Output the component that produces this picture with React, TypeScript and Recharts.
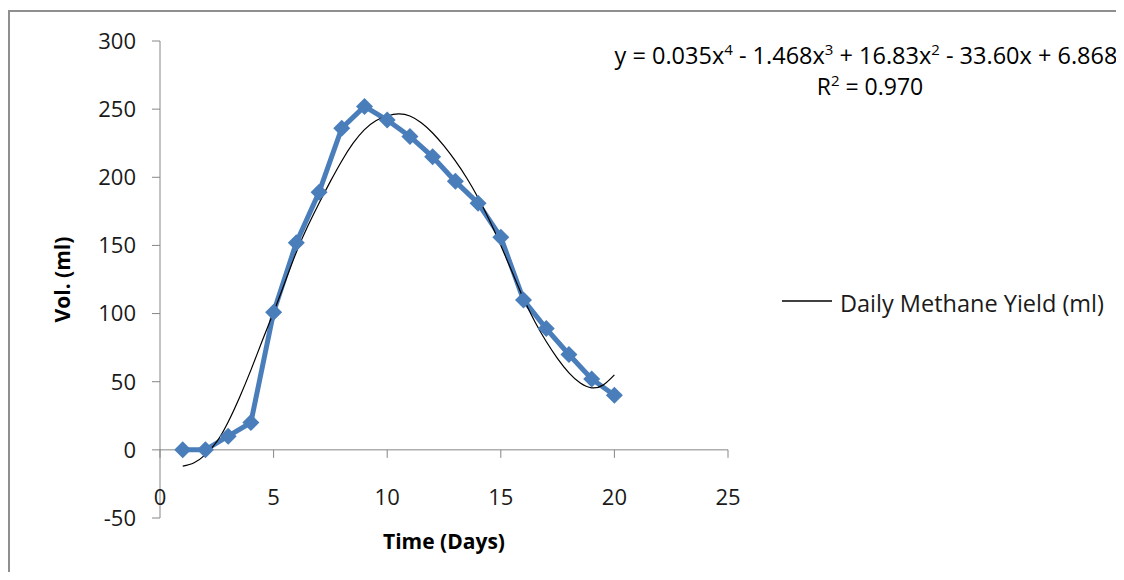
import React from 'react';
import { ComposedChart, Line, XAxis, YAxis, ReferenceLine, ReferenceDot, Legend } from 'recharts';

const days = [1, 2, 3, 4, 5, 6, 7, 8, 9, 10, 11, 12, 13, 14, 15, 16, 17, 18, 19, 20];
const methaneYield = [0, 0, 10, 20, 101, 152, 189, 236, 252, 242, 230, 215, 197, 181, 156, 110, 89, 70, 52, 40];

const trendDays = [1, 1.5, 2, 2.5, 3, 3.5, 4, 4.5, 5, 5.5, 6, 6.5, 7, 7.5, 8, 8.5, 9, 9.5, 10, 10.5, 11, 11.5, 12, 12.5, 13, 13.5, 14, 14.5, 15, 15.5, 16, 16.5, 17, 17.5, 18, 18.5, 19, 19.5, 20];
const trendValues = [-12, -9.5, -3.5, 6, 20.5, 38.5, 58.5, 80, 101, 123, 145, 164, 181, 197, 212, 225, 235, 241.5, 245, 246.5, 245, 240, 232.5, 223, 212, 199.5, 185, 168.5, 150, 130.5, 111, 94, 79.5, 67, 56.5, 49, 45.5, 47.5, 55];

const xTicks = [0, 5, 10, 15, 20, 25];
const yTicks = [-50, 0, 50, 100, 150, 200, 250, 300];

const legendLabel = 'Daily Methane Yield (ml)';
const xTitle = 'Time (Days)';
const yTitle = 'Vol. (ml)';

const seriesData = days.map((d, i) => ({ x: d, y: methaneYield[i] }));
const trendData = trendDays.map((d, i) => ({ x: d, y: trendValues[i] }));

const FONT = "'Open Sans', sans-serif";
const AXIS_COLOR = '#868686';
const BLUE = '#4A7EBB';

const Diamond = (props: any) => {
  const { cx, cy, index } = props;
  if (cx == null || cy == null) return null;
  const r = 8.5;
  return (
    <path
      key={`d-${index}`}
      d={`M${cx},${cy - r}L${cx + r},${cy}L${cx},${cy + r}L${cx - r},${cy}Z`}
      fill={BLUE}
    />
  );
};

const XTick = (props: any) => {
  const { x, y, payload } = props;
  return (
    <text x={x} y={y} dy={-13} textAnchor="middle" fontSize={22} fill="#1a1a1a" fontFamily={FONT}>
      {payload.value}
    </text>
  );
};

const TickMark = (props: any) => {
  const { cx, cy } = props;
  if (cx == null || cy == null) return null;
  return <line x1={cx} x2={cx} y1={cy} y2={cy + 8} stroke={AXIS_COLOR} strokeWidth={1} />;
};

const renderLegend = () => (
  <div style={{ display: 'flex', alignItems: 'center', fontFamily: FONT, fontSize: 23.5, color: '#1a1a1a', whiteSpace: 'nowrap' }}>
    <svg width={66} height={20}>
      <line x1={8} x2={58} y1={8} y2={8} stroke="#000" strokeWidth={1.5} />
    </svg>
    <span>{legendLabel}</span>
  </div>
);

const supStyle = { fontSize: 15, lineHeight: 0 };

export default function App() {
  return (
    <div style={{ position: 'relative', width: 1116, height: 564, overflow: 'hidden', background: '#fff' }}>
      <div
        style={{
          position: 'absolute',
          left: 0,
          top: 2,
          width: 1120,
          height: 600,
          borderTop: '2px solid #8f8f8f',
          borderLeft: '2px solid #8f8f8f',
          boxSizing: 'border-box',
        }}
      />
      <ComposedChart
        width={1116}
        height={564}
        margin={{ top: 33, right: 396, bottom: 24, left: 0 }}
        style={{ position: 'absolute', left: 0, top: 0 }}
      >
        <XAxis
          type="number"
          dataKey="x"
          domain={[0, 25]}
          ticks={xTicks}
          axisLine={false}
          tickLine={false}
          tickSize={0}
          tickMargin={0}
          height={30}
          tick={<XTick />}
          interval={0}
          label={{
            content: (p: any) => {
              const vb = p.viewBox;
              return (
                <text
                  x={vb.x + vb.width / 2}
                  y={vb.y + 31}
                  textAnchor="middle"
                  fontSize={21}
                  fontWeight="bold"
                  fill="#000"
                  fontFamily={FONT}
                >
                  {xTitle}
                </text>
              );
            },
          }}
        />
        <YAxis
          type="number"
          domain={[-50, 300]}
          ticks={yTicks}
          width={152}
          interval={0}
          axisLine={{ stroke: AXIS_COLOR, strokeWidth: 1 }}
          tickLine={{ stroke: AXIS_COLOR, strokeWidth: 1 }}
          tickSize={8}
          tickMargin={16}
          tick={{ fontSize: 22, fill: '#1a1a1a', fontFamily: FONT }}
          label={{
            content: (p: any) => {
              const vb = p.viewBox;
              const cx = vb.x + 54;
              const cy = vb.y + vb.height / 2;
              return (
                <text
                  x={cx}
                  y={cy}
                  transform={`rotate(-90 ${cx} ${cy})`}
                  textAnchor="middle"
                  dominantBaseline="central"
                  fontSize={21}
                  fontWeight="bold"
                  fill="#000"
                  fontFamily={FONT}
                >
                  {yTitle}
                </text>
              );
            },
          }}
        />
        <ReferenceLine y={0} stroke={AXIS_COLOR} strokeWidth={1} />
        {xTicks.map((t) => (
          <ReferenceDot key={`tm-${t}`} x={t} y={0} r={0} shape={<TickMark />} />
        ))}
        <Line
          data={seriesData}
          dataKey="y"
          type="linear"
          stroke={BLUE}
          strokeWidth={5}
          dot={<Diamond />}
          activeDot={false}
          legendType="none"
          isAnimationActive={false}
        />
        <Line
          data={trendData}
          dataKey="y"
          name={legendLabel}
          type="natural"
          stroke="#000"
          strokeWidth={1.2}
          dot={false}
          activeDot={false}
          isAnimationActive={false}
        />
        <Legend
          layout="horizontal"
          verticalAlign="middle"
          align="center"
          content={renderLegend}
          wrapperStyle={{ left: 766, top: 279, width: 350, right: 'auto' }}
        />
      </ComposedChart>
      <div
        style={{
          position: 'absolute',
          left: 458,
          top: 32,
          width: 800,
          textAlign: 'center',
          fontFamily: FONT,
          color: '#000',
          whiteSpace: 'nowrap',
        }}
      >
        <div style={{ fontSize: 23.5, lineHeight: '31px' }}>
          y = 0.035x<sup style={supStyle}>4</sup> - 1.468x<sup style={supStyle}>3</sup> + 16.83x<sup style={supStyle}>2</sup> - 33.60x + 6.868
        </div>
        <div style={{ fontSize: 23, lineHeight: '31px', paddingLeft: 8 }}>
          R<sup style={supStyle}>2</sup> = 0.970
        </div>
      </div>
    </div>
  );
}
